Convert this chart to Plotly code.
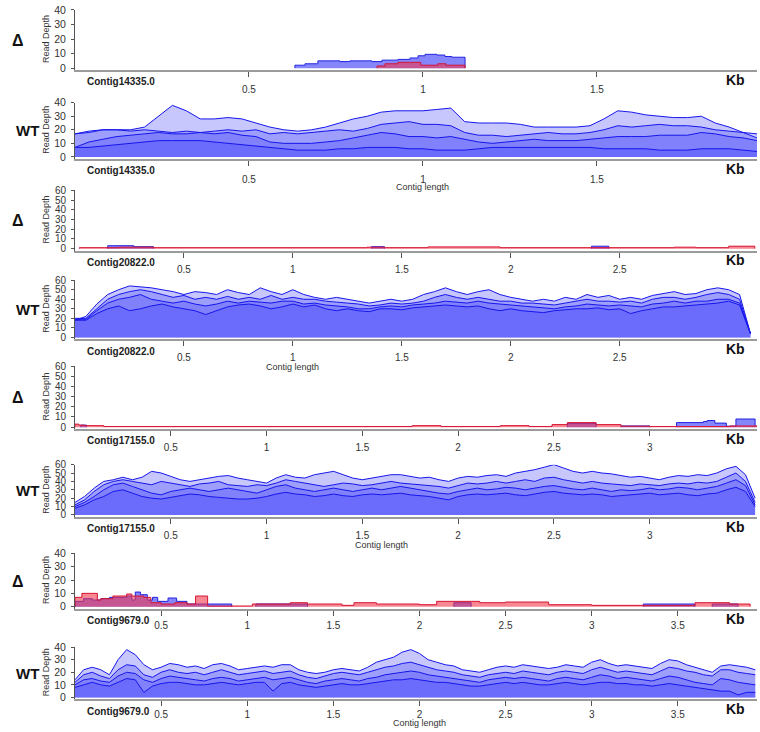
import numpy as np
import plotly.graph_objects as go

W, H = 760, 732

# ---------------- contig lengths (kb) ----------------
len_14335 = 1.96
len_20822 = 3.13
len_17155 = 3.56
len_9679 = 3.96

# ---------------- WT read depth (several libraries) ----------------
# Contig14335.0, sampled every 0.04 kb
wt14335_step = 0.04
wt14335_s1 = [17,19,20,20,20,22,30,38,34,28, 28,29,28,25,22,20,19,20,22,25,
              28,30,33,34,34,34,35,36,26,25, 25,25,24,22,22,22,22,23,28,34,
              33,31,30,29,29,30,25,22,18,14]
wt14335_s2 = [17,18,20,20,19,20,19,18,19,18, 19,20,19,20,17,18,17,18,19,20,
              19,21,24,25,26,24,24,23,18,16, 16,15,16,17,18,17,17,18,20,23,
              22,23,24,23,23,22,20,19,18,17]
wt14335_s3 = [7,11,13,15,16,17,18,17,17,18, 17,18,16,15,11,10,10,10,11,12,
              14,16,18,17,15,15,14,15,13,11, 10,11,12,13,12,12,12,13,14,15,
              15,15,16,16,16,18,17,15,14,12]
wt14335_s4 = [7,7,8,9,10,11,12,12,12,12, 11,10,9,8,7,6,5,5,5,6,
              6,7,7,7,6,6,5,5,5,6, 7,7,7,7,7,7,7,7,6,6,
              6,6,5,5,5,6,6,6,5,4]

# Contig20822.0, sampled every 0.05 kb
wt20822_step = 0.05
wt20822_s1 = [18,22,35,45,50,54,53,52,50,48, 45,48,47,45,50,47,45,52,48,45,
              50,45,42,40,42,40,38,36,38,40, 38,40,45,48,52,48,45,48,50,45,
              42,40,38,40,38,42,40,45,42,44, 40,42,40,44,46,48,45,46,50,52,
              50,45,4]
wt20822_s2 = [20,20,30,40,45,48,50,48,45,42, 44,40,42,40,43,40,42,40,44,40,
              42,40,40,38,37,36,35,33,34,36, 35,36,38,42,45,42,40,42,40,38,
              38,36,36,35,34,36,38,40,38,38, 37,38,36,40,42,42,40,42,45,47,
              45,40,4]
wt20822_s3 = [19,19,28,36,40,42,45,40,38,36, 38,35,33,35,38,36,38,37,36,38,
              38,35,36,34,33,32,30,30,32,33, 32,34,35,36,38,37,36,38,36,35,
              34,33,32,31,30,32,33,35,34,33, 34,33,32,35,36,38,36,38,38,40,
              40,36,4]
wt20822_s4 = [18,18,25,30,33,28,30,33,35,32, 30,28,24,28,32,34,35,33,30,32,
              35,32,34,30,28,30,28,27,30,30, 29,31,32,33,34,33,32,33,30,28,
              30,28,27,26,28,29,30,30,31,29, 30,25,28,30,32,32,33,34,35,36,
              38,34,4]

# Contig17155.0, sampled every 0.05 kb
wt17155_step = 0.05
wt17155_s1 = [15,22,32,40,42,45,42,45,52,50, 46,42,40,42,44,46,47,44,42,40,
              38,44,48,45,44,48,50,52,48,44, 42,44,46,48,48,46,44,45,42,40,
              44,46,45,47,48,46,50,52,54,57, 60,56,52,50,52,50,49,47,45,46,
              44,42,45,47,46,48,47,50,55,58, 48,20]
wt17155_s2 = [12,18,28,36,40,42,40,38,36,40, 38,36,34,37,38,40,36,35,34,36,
              35,38,42,40,38,36,34,36,38,37, 35,36,38,40,38,37,36,35,34,32,
              35,38,37,38,40,38,40,42,40,44, 45,42,40,38,40,38,37,36,35,37,
              36,35,37,38,37,39,38,40,45,50, 40,15]
wt17155_s3 = [10,15,22,30,36,38,34,30,26,24, 28,30,32,30,28,30,32,30,28,26,
              30,34,36,32,30,28,30,32,30,28, 30,32,30,32,34,32,30,28,26,25,
              28,30,32,30,31,33,32,30,32,34, 35,33,31,30,32,30,28,30,29,30,
              32,30,31,33,32,30,32,34,38,42, 35,12]
wt17155_s4 = [8,12,18,22,28,30,26,22,20,19, 21,23,25,24,22,21,20,19,19,20,
              22,25,27,25,24,22,23,25,23,22, 24,25,24,25,26,24,23,22,20,18,
              22,24,25,24,25,26,24,23,25,27, 28,26,25,24,25,24,22,23,24,25,
              26,24,25,26,24,23,25,26,30,33, 28,10]

# Contig9679.0, sampled every 0.05 kb
wt9679_step = 0.05
wt9679_s1 = [14,22,24,22,18,30,38,34,26,22, 24,27,26,24,25,23,26,27,25,22,
             23,24,25,24,26,26,22,20,19,20, 22,23,22,21,24,28,30,32,36,38,
             35,30,28,26,25,22,21,20,22,24, 25,24,26,25,24,23,24,26,25,24,
             28,30,27,25,26,25,24,23,27,30, 29,26,24,22,20,25,26,25,24,22]
wt9679_s2 = [12,18,20,17,15,22,26,25,18,16, 20,22,20,19,20,18,20,22,20,18,
             19,20,21,19,20,21,18,16,15,17, 19,20,19,18,20,22,24,25,27,28,
             26,24,22,21,20,18,17,16,18,19, 20,19,21,20,19,18,20,21,20,19,
             22,24,22,20,21,20,19,18,21,24, 23,21,20,18,17,22,22,20,19,18]
wt9679_s3 = [10,14,15,13,12,17,20,19,14,12, 15,17,16,15,14,13,15,16,15,13,
             14,15,16,14,15,16,14,12,11,13, 14,15,14,13,15,16,18,19,20,21,
             20,18,17,16,15,14,13,12,14,15, 16,15,16,15,14,13,15,16,15,14,
             16,18,17,15,16,15,14,13,15,17, 16,14,12,11,10,15,14,12,11,10]
wt9679_s4 = [8,10,12,10,9,12,15,14,4,9, 11,12,12,11,10,10,11,12,11,10,
             11,12,12,5,11,12,10,9,8,9, 10,11,10,10,11,12,13,14,14,15,
             14,13,12,12,11,10,9,9,10,11, 12,11,12,11,10,10,11,12,11,10,
             11,12,12,11,11,10,10,9,10,11, 10,9,8,7,6,5,5,2,4,4]

# ---------------- Delta read depth (two libraries, step segments) ----------------
d14335_blue_x = [0.632, 0.661, 0.698, 0.761, 0.790, 0.853, 0.882, 0.928, 0.963, 0.986, 1.006, 1.040, 1.063, 1.083, 1.121]
d14335_blue_v = [2, 3, 5, 4.5, 5, 4.5, 5.5, 6, 7, 8.5, 9.5, 9, 8, 7.5, 0]
d14335_red_x = [0.868, 0.891, 0.928, 0.994, 1.043, 1.066, 1.121]
d14335_red_v = [1.5, 3, 4, 2, 3, 2, 0]

d20822_red_x = [0.02, 0.20, 0.36, 1.34, 1.42, 1.62, 1.95, 2.75, 2.85, 3.00, 3.12]
d20822_red_v = [1, 1.5, 1, 1.5, 1, 1.8, 1, 1.5, 1, 2.5, 0]
d20822_blue_x = [0.15, 0.27, 0.36, None, 1.36, 1.42, None, 2.37, 2.45]
d20822_blue_v = [3, 2, 0, None, 2, 0, None, 2.5, 0]

d17155_red_x = [0.0, 0.02, 0.05, 0.15, 1.76, 1.91, 2.22, 2.37, 2.49, 2.57, 2.72, 2.85, 3.00, 3.42, 3.56]
d17155_red_v = [3, 2, 1.5, 0.6, 1.5, 0.6, 1.5, 0.6, 2.5, 4.5, 2.5, 1, 0.6, 1.2, 0]
d17155_blue_x = [0.03, 0.06, None, 2.57, 2.72, None, 2.85, 3.00, None, 3.14, 3.28, 3.30, 3.34, 3.40, 3.45, 3.55]
d17155_blue_v = [2, 0, None, 3.5, 0, None, 1.2, 0, None, 4.5, 5.5, 6.5, 4, 1, 8, 0]

d9679_red_x = [0.0, 0.04, 0.13, 0.15, 0.22, 0.30, 0.33, 0.40, 0.44, 0.50, 0.58, 0.65, 0.70, 0.77,
               1.03, 1.25, 1.35, 1.55, 1.62, 1.75, 2.00, 2.10, 2.35, 2.50, 2.75, 3.00, 3.60, 3.80, 3.92]
d9679_red_v = [7, 10, 5, 6, 8, 9.5, 8, 7, 3, 2, 3, 2, 8, 0.5,
               2, 3, 2, 1, 3, 2, 1.5, 4, 3, 3.5, 1.5, 1, 3, 2, 0]
d9679_blue_x = [0.0, 0.05, 0.10, 0.15, 0.20, 0.30, 0.33, 0.35, 0.38, 0.42, 0.45, 0.48, 0.54, 0.59, 0.65, 0.91,
                None, 1.05, 1.35, None, 2.20, 2.30, None, 3.30, 3.60, None, 3.70, 3.85]
d9679_blue_v = [4, 6, 5, 6, 7, 8, 5, 11, 9, 5, 7, 4, 6.5, 4, 2, 0,
                None, 2, 0, None, 3, 0, None, 2, 0, None, 2, 0]

# ---------------- layout of the 8 panels (pixel geometry) ----------------
# (kind, label, contig, length, ymax, top_px, zero_px, axis_px, contig_length_label_x, tick_standoff)
panels = [
    ("d", "Δ", "Contig14335.0", len_14335, 40, 4, 63, 65, None, 4),
    ("w", "WT", "Contig14335.0", len_14335, 40, 98, 153, 155, 1.0, 5),
    ("d", "Δ", "Contig20822.0", len_20822, 60, 187, 246, 248, None, 3),
    ("w", "WT", "Contig20822.0", len_20822, 60, 278, 336, 338, 1.0, 3),
    ("d", "Δ", "Contig17155.0", len_17155, 60, 365, 427, 429, None, 3),
    ("w", "WT", "Contig17155.0", len_17155, 60, 465, 516, 518, 1.6, 3),
    ("d", "Δ", "Contig9679.0", len_9679, 40, 555, 609, 611, None, 1),
    ("w", "WT", "Contig9679.0", len_9679, 40, 650, 701, 703, 2.0, 0),
]

wt_sets = {
    1: (wt14335_step, [wt14335_s1, wt14335_s2, wt14335_s3, wt14335_s4]),
    3: (wt20822_step, [wt20822_s1, wt20822_s2, wt20822_s3, wt20822_s4]),
    5: (wt17155_step, [wt17155_s1, wt17155_s2, wt17155_s3, wt17155_s4]),
    7: (wt9679_step, [wt9679_s1, wt9679_s2, wt9679_s3, wt9679_s4]),
}
d_sets = {
    0: (d14335_blue_x, d14335_blue_v, d14335_red_x, d14335_red_v),
    2: (d20822_blue_x, d20822_blue_v, d20822_red_x, d20822_red_v),
    4: (d17155_blue_x, d17155_blue_v, d17155_red_x, d17155_red_v),
    6: (d9679_blue_x, d9679_blue_v, d9679_red_x, d9679_red_v),
}

WT_LINE = "rgb(22,22,235)"
WT_FILL = "rgba(55,55,250,0.28)"
B_LINE = "rgb(35,35,225)"
B_FILL = "rgba(75,75,250,0.68)"
R_LINE = "rgb(215,20,50)"
R_FILL = "rgba(240,55,75,0.6)"

X0_PX, X1_PX = 75, 757
FONT = "Liberation Sans, Arial, sans-serif"


def seg_with_starts(xs, vs):
    """add a zero point before each segment start so the outline rises vertically"""
    ox, ov = [], []
    start = True
    for x, v in zip(xs, vs):
        if x is None:
            ox.append(None); ov.append(None); start = True
            continue
        if start:
            ox.append(x); ov.append(0); start = False
        ox.append(x); ov.append(v)
    return ox, ov


fig = go.Figure()
annotations = []
layout_axes = {}

for i, (kind, lab, contig, L, ymax, top_px, zero_px, axis_px, cl_x, standoff) in enumerate(panels):
    n = i + 1
    xa = "x" if n == 1 else f"x{n}"
    ya = "y" if n == 1 else f"y{n}"
    lo = -(axis_px - zero_px) / (zero_px - top_px) * ymax
    px_per_kb = (X1_PX - X0_PX) / L

    if kind == "w":
        step, series = wt_sets[i]
        for s in series:
            xs = np.round(np.arange(len(s)) * step, 3)
            fig.add_trace(go.Scatter(x=xs, y=s, mode="lines", xaxis=xa, yaxis=ya,
                                     line=dict(color=WT_LINE, width=1),
                                     fill="tozeroy", fillcolor=WT_FILL,
                                     showlegend=False, hoverinfo="skip"))
    else:
        bx, bv, rx, rv = d_sets[i]
        for (xx, vv, lc, fc) in [(bx, bv, B_LINE, B_FILL), (rx, rv, R_LINE, R_FILL)]:
            ox, ov = seg_with_starts(xx, vv)
            fig.add_trace(go.Scatter(x=ox, y=ov, mode="lines", xaxis=xa, yaxis=ya,
                                     line=dict(color=lc, width=1, shape="hv"),
                                     fill="tozeroy", fillcolor=fc, connectgaps=False,
                                     showlegend=False, hoverinfo="skip"))

    # tick marks every 0.5 kb, leaving room for the "Kb" label on the right
    ticks = [t / 2 for t in range(1, int(L * 2) + 1) if X0_PX + (t / 2) * px_per_kb < 700]
    layout_axes["xaxis" if n == 1 else f"xaxis{n}"] = dict(
        domain=[X0_PX / W, X1_PX / W], range=[0, L], anchor=ya,
        tickvals=ticks, ticktext=[("%g" % t) for t in ticks],
        showline=True, linecolor="#9b9b9b", linewidth=2,
        ticks="outside", ticklen=5, tickcolor="#555", tickwidth=1,
        ticklabelstandoff=standoff,
        tickfont=dict(size=10, color="#333", family=FONT),
        showgrid=False, zeroline=False, fixedrange=True)
    layout_axes["yaxis" if n == 1 else f"yaxis{n}"] = dict(
        domain=[1 - axis_px / H, 1 - top_px / H], range=[lo, ymax], anchor=xa,
        tickvals=list(range(0, ymax + 1, 10)),
        showline=True, linecolor="#555", linewidth=1,
        ticks="outside", ticklen=3, tickcolor="#555", ticklabelstandoff=3,
        tickfont=dict(size=10.5 if ymax == 40 else 10, color="#333", family=FONT),
        showgrid=False, zeroline=False, fixedrange=True)

    # side label
    mid_px = (top_px + axis_px) / 2
    annotations.append(dict(text=f"<b>{lab}</b>", x=(18 if lab == "Δ" else 27) / W, y=1 - mid_px / H,
                            xref="paper", yref="paper", showarrow=False,
                            font=dict(size=16 if lab == "Δ" else 15, color="#111", family=FONT),
                            xanchor="center", yanchor="middle"))
    annotations.append(dict(text="Read Depth", x=46 / W, y=1 - (top_px + zero_px) / 2 / H,
                            xref="paper", yref="paper", showarrow=False, textangle=-90,
                            font=dict(size=9, color="#333", family=FONT),
                            xanchor="center", yanchor="middle"))
    annotations.append(dict(text=f"<b>{contig}</b>", x=85 / W, y=1 - (axis_px + 12) / H,
                            xref="paper", yref="paper", showarrow=False,
                            font=dict(size=10, color="#222", family=FONT),
                            xanchor="left", yanchor="middle"))
    annotations.append(dict(text="<b>Kb</b>", x=735 / W, y=1 - (axis_px + 10) / H,
                            xref="paper", yref="paper", showarrow=False,
                            font=dict(size=14, color="#111", family=FONT),
                            xanchor="center", yanchor="middle"))
    if cl_x is not None:
        annotations.append(dict(text="Contig length", x=cl_x, y=1 - min(axis_px + 28, 727) / H,
                                xref=xa, yref="paper", showarrow=False,
                                font=dict(size=9, color="#333", family=FONT),
                                xanchor="center", yanchor="middle"))

fig.update_layout(width=W, height=H, margin=dict(l=0, r=0, t=0, b=0),
                  paper_bgcolor="white", plot_bgcolor="white",
                  annotations=annotations, showlegend=False, **layout_axes)

fig.write_html("out.html", config={"displayModeBar": False},
               post_script="document.body.style.margin='0px';document.body.style.overflow='hidden';")
